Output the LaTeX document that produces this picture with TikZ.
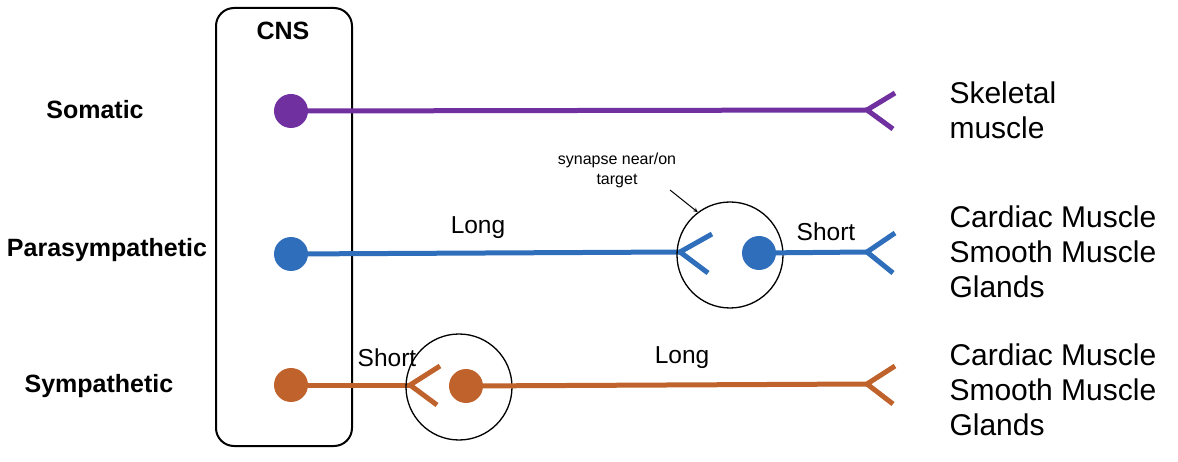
\documentclass[tikz,border=0pt]{standalone}
\usepackage{fontspec}
\setmainfont{Liberation Sans}
\begin{document}
\begin{tikzpicture}[x=1pt,y=-1pt,
  nrv/.style={line width=5pt},
  dot/.style={circle,inner sep=0pt,minimum size=34pt},
  ring/.style={circle,draw,line width=1.3pt,inner sep=0pt,minimum size=106pt},
  lab/.style={font=\fontsize{25}{30}\selectfont\bfseries},
  tgt/.style={font=\fontsize{30}{35}\selectfont,align=left,anchor=west},
  len/.style={font=\fontsize{24.5}{29}\selectfont}]
\useasboundingbox (0,0) rectangle (1178,462);
\node[draw,line width=2pt,rounded corners=18pt,minimum width=136pt,minimum height=438pt] (cns) at (284,227) {};
\node[lab] (cnst) at (283,31) {CNS};
\node[lab] (som) at (95,110) {Somatic};
\node[lab] (par) at (107,250) {Parasympathetic};
\node[lab] (sym) at (99,386) {Sympathetic};
\definecolor{pu}{HTML}{7030A0}\definecolor{bl}{HTML}{2F6EBA}\definecolor{or}{HTML}{C0622B}
% Somatic
\node[dot,fill=pu] (sd) at (291,111) {};
\coordinate (sa) at (867,110);
\draw[pu,nrv] (sd) -- (sa);
\draw[pu,nrv] (895,93) -- (sa) -- (893,129);
\node[tgt] (st) at (946,110) {Skeletal\\muscle};
% Parasympathetic
\node[dot,fill=bl] (pd) at (291,254) {};
\coordinate (pa) at (680,252);
\draw[bl,nrv] (pd) -- (pa);
\draw[bl,nrv] (712,234) -- (pa) -- (708,273);
\node[ring] (pr) at (730,255) {};
\node[dot,fill=bl] (pd2) at (759,253) {};
\coordinate (pb) at (867,252);
\draw[bl,nrv] (pd2) -- (pb);
\draw[bl,nrv] (895,233) -- (pb) -- (893,273);
\node[len] (pl) at (478,228) {Long};
\node[len] (ps) at (826,232) {Short};
\node[font=\fontsize{16}{20}\selectfont,align=center] (syn) at (617,170) {synapse near/on\\target};
\coordinate (sy1) at (670,190);
\draw[-stealth,line width=1pt] (sy1) -- (pr.127);
\node[tgt] (pt) at (946,252) {Cardiac Muscle\\Smooth Muscle\\Glands};
% Sympathetic
\node[dot,fill=or] (yd) at (291,385) {};
\coordinate (ya) at (410,385);
\draw[or,nrv] (yd) -- (ya);
\draw[or,nrv] (440,366) -- (ya) -- (437,405);
\node[ring] (yr) at (459,387) {};
\node[dot,fill=or] (yd2) at (466,386) {};
\coordinate (yb) at (867,384);
\draw[or,nrv] (yd2) -- (yb);
\draw[or,nrv] (895,366) -- (yb) -- (893,404);
\node[len] (ys) at (387,358) {Short};
\node[len] (yl) at (682,358) {Long};
\node[tgt] (yt) at (946,390) {Cardiac Muscle\\Smooth Muscle\\Glands};
\end{tikzpicture}
\end{document}
